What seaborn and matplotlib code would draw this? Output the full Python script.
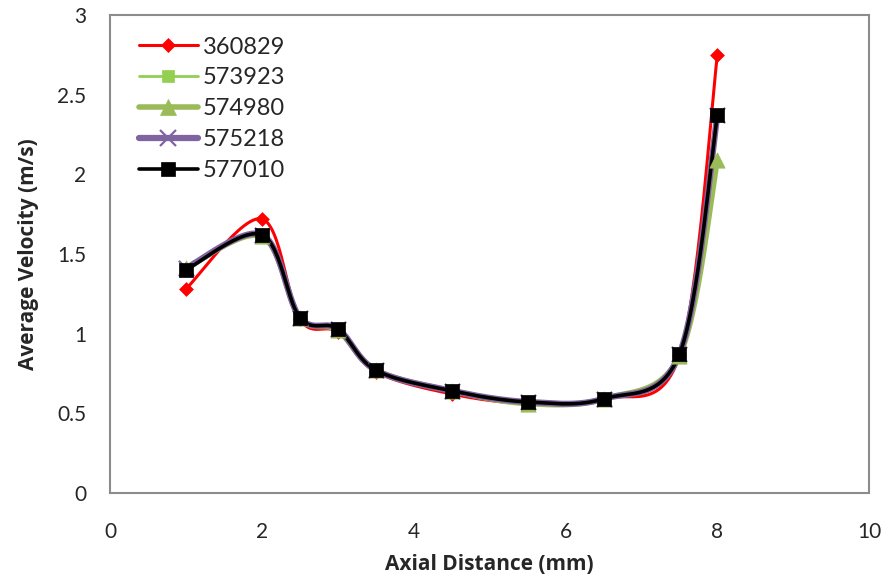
import numpy as np
import pandas as pd
import matplotlib
matplotlib.use("Agg")
import matplotlib.pyplot as plt
import seaborn as sns

# Axial positions (mm)
axial_mm = [1, 2, 2.5, 3, 3.5, 4.5, 5.5, 6.5, 7.5, 8]

# Average velocity (m/s) for each mesh
series_names = ["360829", "573923", "574980", "575218", "577010"]
v_360829 = [1.28, 1.72, 1.09, 1.01, 0.76, 0.62, 0.56, 0.59, 0.86, 2.75]
v_573923 = [1.40, 1.61, 1.10, 1.02, 0.77, 0.64, 0.56, 0.59, 0.87, 2.37]
v_574980 = [1.41, 1.61, 1.10, 1.02, 0.77, 0.64, 0.56, 0.59, 0.86, 2.09]
v_575218 = [1.41, 1.62, 1.10, 1.03, 0.77, 0.64, 0.57, 0.59, 0.87, 2.37]
v_577010 = [1.40, 1.62, 1.10, 1.03, 0.77, 0.64, 0.57, 0.59, 0.87, 2.37]
values = [v_360829, v_573923, v_574980, v_575218, v_577010]

colors = ["#FF0000", "#92D050", "#9BBB59", "#8064A2", "#000000"]
markers = ["D", "s", "^", "x", "s"]
msizes = [7, 9, 11, 11, 10]
lwidths = [2.2, 2.0, 4.0, 4.5, 2.6]


def smooth(x, y, n=30):
    """Cubic Bezier smoothing through the points (Catmull-Rom style)."""
    x = np.asarray(x, float)
    y = np.asarray(y, float)
    P = np.column_stack([x, y])
    out = []
    for i in range(len(P) - 1):
        p0 = P[i - 1] if i > 0 else P[i]
        p1 = P[i]
        p2 = P[i + 1]
        p3 = P[i + 2] if i + 2 < len(P) else P[i + 1]
        c1 = p1 + (p2 - p0) / 6.0
        c2 = p2 - (p3 - p1) / 6.0
        t = np.linspace(0, 1, n)[:, None]
        seg = ((1 - t) ** 3) * p1 + 3 * ((1 - t) ** 2) * t * c1 + 3 * (1 - t) * t ** 2 * c2 + t ** 3 * p2
        out.append(seg if i == 0 else seg[1:])
    S = np.vstack(out)
    return S[:, 0], S[:, 1]


sns.set_style("white")
plt.rcParams["font.family"] = ["Lato", "DejaVu Sans"]
label_font = ["Open Sans", "DejaVu Sans"]

fig = plt.figure(figsize=(8.87, 5.79), dpi=100)
ax = fig.add_axes([0.124, 0.149, 0.856, 0.825])

handles = []
for name, vals, c, m, ms, lw in zip(series_names, values, colors, markers, msizes, lwidths):
    sx, sy = smooth(axial_mm, vals)
    curve = pd.DataFrame({"x": sx, "y": sy})
    sns.lineplot(data=curve, x="x", y="y", sort=False, color=c, linewidth=lw,
                 ax=ax, estimator=None)
    pts = pd.DataFrame({"x": axial_mm, "y": vals})
    if m == "x":
        sns.scatterplot(data=pts, x="x", y="y", marker="x", s=ms ** 2, color=c,
                        linewidth=1.6, ax=ax, zorder=3)
    else:
        sns.scatterplot(data=pts, x="x", y="y", marker=m, s=ms ** 2, color=c,
                        edgecolor=c, linewidth=0.5, ax=ax, zorder=3)
    h, = ax.plot([], [], color=c, lw=lw, marker=m, markersize=ms,
                 markeredgewidth=1.6 if m == "x" else 0.5, label=name)
    handles.append(h)

ax.set_xlim(0, 10)
ax.set_ylim(0, 3)
ax.set_xticks([0, 2, 4, 6, 8, 10])
ax.set_yticks([0, 0.5, 1, 1.5, 2, 2.5, 3])
ax.set_yticklabels(["0", "0.5", "1", "1.5", "2", "2.5", "3"])
ax.tick_params(axis="both", labelsize=15, length=0)
ax.tick_params(axis="x", pad=21)
ax.tick_params(axis="y", pad=17)
for s in ax.spines.values():
    s.set_visible(True)
    s.set_color("#8c8c8c")
    s.set_linewidth(1.5)

ax.set_xlabel("Axial Distance (mm)", fontsize=15, fontweight="bold",
              family=label_font, labelpad=9)
ax.set_ylabel("Average Velocity (m/s)", fontsize=15, fontweight="bold",
              family=label_font, labelpad=13)

leg = ax.legend(handles=handles, loc="upper left", bbox_to_anchor=(0.038, 0.955),
                frameon=False, fontsize=17, handlelength=2.5, handletextpad=0.2,
                labelspacing=0.42, borderaxespad=0, borderpad=0)

fig.savefig("out.png", dpi=100)
